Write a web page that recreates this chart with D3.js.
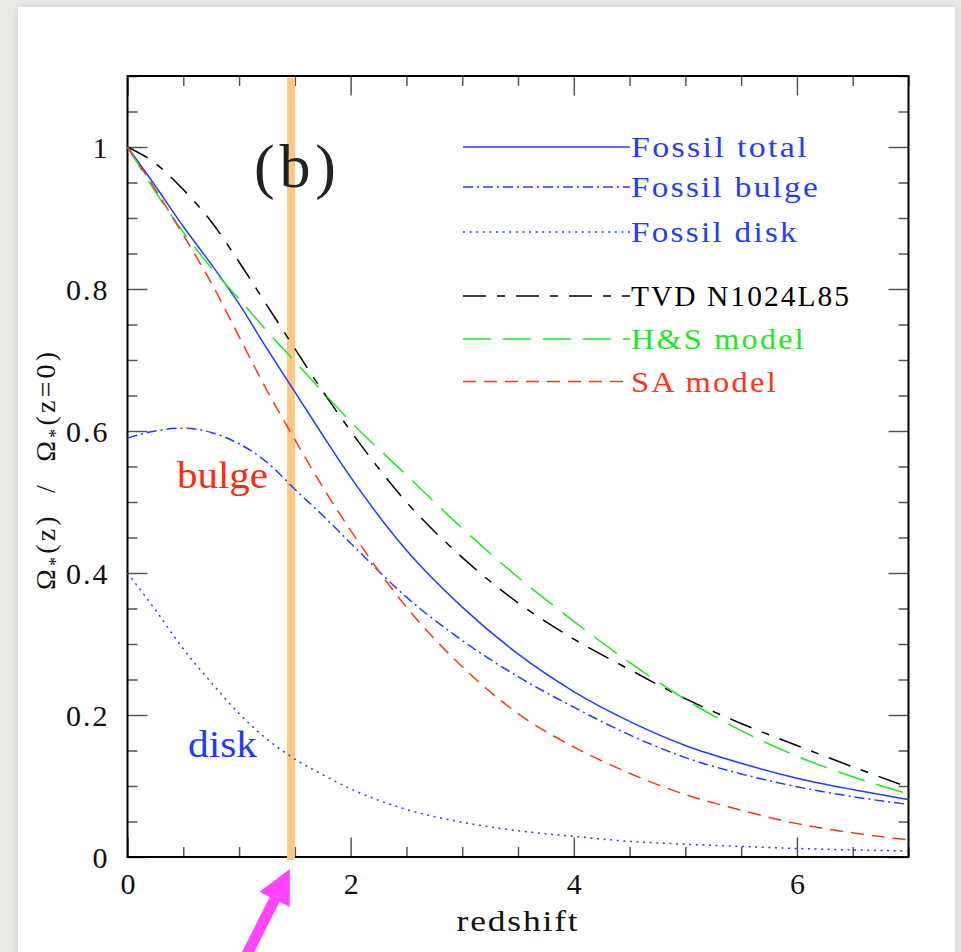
<!DOCTYPE html>
<html>
<head>
<meta charset="utf-8">
<script src="https://cdn.jsdelivr.net/npm/d3@7"></script>
<style>
  html, body { margin: 0; padding: 0; background: #eae9e6; }
  svg { display: block; }
  text { font-family: "Liberation Serif", "DejaVu Serif", serif; }
</style>
</head>
<body>
<svg id="chart" width="961" height="952"></svg>
<script>
// Redshift sampling shared by every curve
const redshift = [0, 0.25, 0.5, 0.75, 1, 1.25, 1.5, 1.75, 2, 2.5, 3, 3.5, 4, 4.5, 5, 5.5, 6, 6.5, 7];

// Stellar mass density normalised to z = 0
const fossilTotal = [1.0, 0.945, 0.888, 0.835, 0.779, 0.716, 0.655, 0.594, 0.535, 0.432, 0.352, 0.286, 0.233, 0.191, 0.157, 0.132, 0.111, 0.095, 0.081];
const fossilBulge = [0.59, 0.600, 0.604, 0.598, 0.582, 0.556, 0.518, 0.481, 0.442, 0.366, 0.305, 0.254, 0.211, 0.172, 0.140, 0.117, 0.099, 0.085, 0.074];
const fossilDisk  = [0.40, 0.348, 0.293, 0.246, 0.202, 0.166, 0.138, 0.116, 0.096, 0.067, 0.049, 0.037, 0.029, 0.022, 0.018, 0.015, 0.012, 0.010, 0.0085];
const tvdN1024L85 = [1.0, 0.977, 0.940, 0.895, 0.838, 0.777, 0.716, 0.656, 0.600, 0.500, 0.422, 0.358, 0.307, 0.264, 0.223, 0.188, 0.157, 0.127, 0.098];
const hsModel     = [1.0, 0.937, 0.880, 0.830, 0.786, 0.741, 0.698, 0.655, 0.613, 0.538, 0.463, 0.394, 0.332, 0.274, 0.222, 0.178, 0.142, 0.113, 0.089];
const saModel     = [1.0, 0.940, 0.876, 0.809, 0.733, 0.657, 0.588, 0.521, 0.460, 0.352, 0.268, 0.202, 0.155, 0.118, 0.088, 0.066, 0.047, 0.034, 0.024];

// Legend labels, in drawing order
const seriesNames = ["Fossil total", "Fossil bulge", "Fossil disk", "TVD N1024L85", "H&S model", "SA model"];

// Axis ticks
const xMajorTicks = [0, 2, 4, 6];
const xTickLabels = ["0", "2", "4", "6"];
const yMajorTicks = [0, 0.2, 0.4, 0.6, 0.8, 1.0];
const yTickLabels = ["0", "0.2", "0.4", "0.6", "0.8", "1"];

// Highlighted redshift
const markedRedshift = 1.465;

// ---------------------------------------------------------------------------
const blue = "#1f3dff", green = "#1ee81e", red = "#ff3515", black = "#000";
const styles = [
  { color: blue,  dash: null,          y: 147,   tx: 178 },
  { color: blue,  dash: "10,4,2,4",    y: 187,   tx: 189 },
  { color: blue,  dash: "2,4.6",       y: 232,   tx: 168 },
  { color: black, dash: "23,11,8,11",  y: 296,   tx: 220 },
  { color: green, dash: "28,12",       y: 339,   tx: 175 },
  { color: red,   dash: "13,8",        y: 381.5, tx: 147 }
];
const seriesValues = [fossilTotal, fossilBulge, fossilDisk, tvdN1024L85, hsModel, saModel];

const svg = d3.select("#chart");
const W = 961, H = 952;
const plotL = 127.5, plotR = 908.5, plotT = 76, plotB = 857;

const x = d3.scaleLinear().domain([0, 7]).range([plotL, plotR]);
const y = d3.scaleLinear().domain([0, 1.1]).range([plotB, plotT]);

// Paper panel with soft shadow
const defs = svg.append("defs");
const f = defs.append("filter").attr("id", "shadow").attr("x", "-5%").attr("y", "-5%").attr("width", "110%").attr("height", "110%");
f.append("feDropShadow").attr("dx", 0).attr("dy", 0).attr("stdDeviation", 4)
  .attr("flood-color", "#999").attr("flood-opacity", 0.35);
svg.append("rect").attr("x", 0).attr("y", 0).attr("width", W).attr("height", H).attr("fill", "#eae9e6");
svg.append("rect").attr("x", 18).attr("y", 7).attr("width", 937).attr("height", H + 20)
  .attr("fill", "#fff").attr("filter", "url(#shadow)");

// Axes: major and minor ticks on all four sides, pointing inwards
const tickColor = "#555";
function styleAxis(g) {
  g.select(".domain").remove();
  g.selectAll(".tick line").attr("stroke", tickColor).attr("stroke-width", 1.5);
}
const xMinor = d3.range(0, 7.01, 0.5).filter(v => !xMajorTicks.includes(v));
const yMinor = d3.range(0, 1.101, 0.05).map(v => +v.toFixed(2)).filter(v => !yMajorTicks.some(m => Math.abs(m - v) < 1e-6));

// bottom
svg.append("g").attr("transform", `translate(0,${plotB})`)
  .call(d3.axisBottom(x).tickValues(xMinor).tickSize(-10).tickFormat(""))
  .call(styleAxis);
const xAxisG = svg.append("g").attr("transform", `translate(0,${plotB})`)
  .call(d3.axisBottom(x).tickValues(xMajorTicks).tickSize(-19.5).tickFormat((d, i) => xTickLabels[i]))
  .call(styleAxis);
xAxisG.selectAll(".tick text")
  .attr("y", 37).attr("dy", null)
  .attr("fill", "#111").attr("font-size", 30)
  .style("font-family", "'Liberation Serif', serif");
// top
svg.append("g").attr("transform", `translate(0,${plotT})`)
  .call(d3.axisTop(x).tickValues(xMinor).tickSize(-10).tickFormat(""))
  .call(styleAxis);
svg.append("g").attr("transform", `translate(0,${plotT})`)
  .call(d3.axisTop(x).tickValues(xMajorTicks).tickSize(-19.5).tickFormat(""))
  .call(styleAxis);
// left
svg.append("g").attr("transform", `translate(${plotL},0)`)
  .call(d3.axisLeft(y).tickValues(yMinor).tickSize(-10).tickFormat(""))
  .call(styleAxis);
const yAxisG = svg.append("g").attr("transform", `translate(${plotL},0)`)
  .call(d3.axisLeft(y).tickValues(yMajorTicks).tickSize(-20).tickFormat((d, i) => yTickLabels[i]))
  .call(styleAxis);
yAxisG.selectAll(".tick text")
  .attr("x", -18).attr("dy", "0.34em")
  .attr("fill", "#111").attr("font-size", 30)
  .style("letter-spacing", "2px")
  .style("font-family", "'Liberation Serif', serif");
// right
svg.append("g").attr("transform", `translate(${plotR},0)`)
  .call(d3.axisRight(y).tickValues(yMinor).tickSize(-10).tickFormat(""))
  .call(styleAxis);
svg.append("g").attr("transform", `translate(${plotR},0)`)
  .call(d3.axisRight(y).tickValues(yMajorTicks).tickSize(-20).tickFormat(""))
  .call(styleAxis);

// Frame
svg.append("rect").attr("x", plotL).attr("y", plotT)
  .attr("width", plotR - plotL).attr("height", plotB - plotT)
  .attr("fill", "none").attr("stroke", "#000").attr("stroke-width", 2);

// Highlight band at the marked redshift
svg.append("rect")
  .attr("x", x(markedRedshift) - 4).attr("y", plotT + 2)
  .attr("width", 8).attr("height", plotB - plotT + 1)
  .attr("fill", "#ffc882");

// Curves
const line = d3.line().x(d => x(d[0])).y(d => y(d[1])).curve(d3.curveMonotoneX);
seriesValues.forEach((vals, i) => {
  const pts = redshift.map((z, k) => [z, vals[k]]);
  svg.append("path")
    .attr("d", line(pts))
    .attr("fill", "none")
    .attr("stroke", styles[i].color)
    .attr("stroke-width", 1.5)
    .attr("stroke-dasharray", styles[i].dash);
});

// Legend
const legend = svg.append("g");
seriesNames.forEach((name, i) => {
  const s = styles[i];
  legend.append("line")
    .attr("x1", 463).attr("x2", 630).attr("y1", s.y).attr("y2", s.y)
    .attr("stroke", s.color).attr("stroke-width", 1.5)
    .attr("stroke-dasharray", s.dash);
  legend.append("text")
    .attr("x", 631).attr("y", s.y + 10)
    .attr("font-size", 29)
    .attr("fill", s.color)
    .style("letter-spacing", "2px")
    .attr("textLength", s.tx).attr("lengthAdjust", "spacingAndGlyphs")
    .text(name);
});

// Panel letter
svg.append("text").attr("x", 254).attr("y", 187)
  .attr("font-size", 62).attr("fill", "#222")
  .attr("textLength", 82).attr("lengthAdjust", "spacing")
  .text("(b)");

// Component labels
svg.append("text").attr("x", 177).attr("y", 488)
  .attr("font-size", 38).attr("fill", "#ff2a0c")
  .attr("textLength", 91).attr("lengthAdjust", "spacingAndGlyphs")
  .text("bulge");
svg.append("text").attr("x", 188).attr("y", 757)
  .attr("font-size", 38).attr("fill", "#1a3cff")
  .attr("textLength", 69).attr("lengthAdjust", "spacingAndGlyphs")
  .text("disk");

// Axis titles
svg.append("text").attr("x", (plotL + plotR) / 2).attr("y", 931)
  .attr("text-anchor", "middle").attr("font-size", 29).attr("fill", "#111")
  .style("letter-spacing", "1.5px")
  .attr("textLength", 123).attr("lengthAdjust", "spacingAndGlyphs")
  .text("redshift");

const yt = svg.append("text")
  .attr("transform", "translate(55,471) rotate(-90)")
  .attr("text-anchor", "middle").attr("font-size", 28).attr("fill", "#111")
  .attr("textLength", 238).attr("lengthAdjust", "spacing")
  .style("white-space", "pre");
yt.append("tspan").text("Ω");
yt.append("tspan").attr("font-size", 18).attr("dy", 7).text("*");
yt.append("tspan").attr("dy", -7).text("(z)  /  Ω");
yt.append("tspan").attr("font-size", 18).attr("dy", 7).text("*");
yt.append("tspan").attr("dy", -7).text("(z=0)");

// Arrow pointing at the highlighted redshift
const tipX = x(markedRedshift) - 1, tipY = 869;
const ux = -0.45, uy = 0.893, nx = 0.893, ny = 0.45;
const headLen = 34, headHalf = 16.8, shaftHalf = 5.5, shaftLen = 120;
const bx = tipX + ux * headLen, by = tipY + uy * headLen;
const ex = bx + ux * shaftLen, ey = by + uy * shaftLen;
const arrowPts = [
  [tipX, tipY],
  [bx + nx * headHalf, by + ny * headHalf],
  [bx + nx * shaftHalf, by + ny * shaftHalf],
  [ex + nx * shaftHalf, ey + ny * shaftHalf],
  [ex - nx * shaftHalf, ey - ny * shaftHalf],
  [bx - nx * shaftHalf, by - ny * shaftHalf],
  [bx - nx * headHalf, by - ny * headHalf]
];
svg.append("polygon")
  .attr("points", arrowPts.map(p => p.join(",")).join(" "))
  .attr("fill", "#ff45ff");
</script>
</body>
</html>
